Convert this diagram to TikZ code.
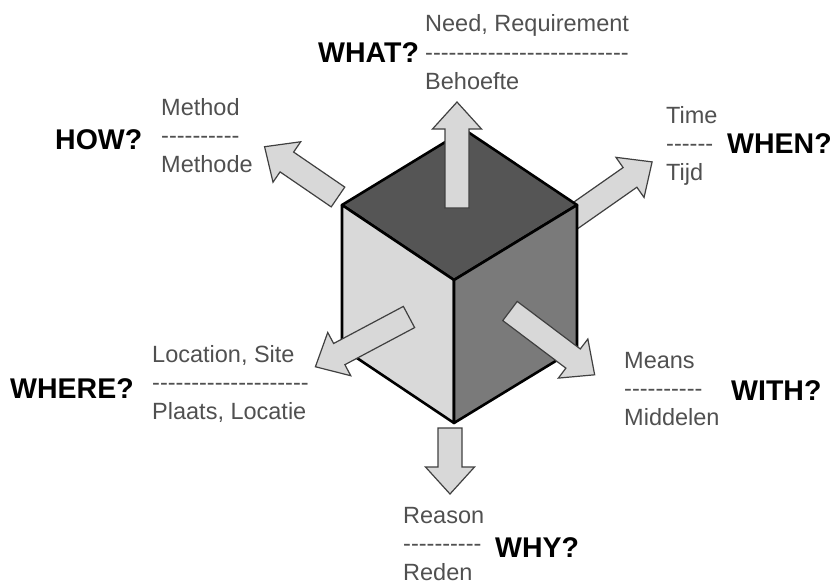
\documentclass[tikz,border=0pt]{standalone}
\usepackage{fontspec}
\setmainfont{Liberation Sans}
\usepackage{xcolor}
\usepackage{tikz}

\definecolor{topgray}{RGB}{85,85,85}
\definecolor{leftgray}{RGB}{217,217,217}
\definecolor{rightgray}{RGB}{122,122,122}
\definecolor{arrowgray}{RGB}{216,216,216}
\definecolor{textgray}{RGB}{80,80,80}

% broad arrow: tail point, direction, length
\newcommand{\blockarrow}[3]{%
	\begin{scope}[shift={#1},rotate=#2]
		\draw[arrowbody] (0,-12) -- ({#3-27},-12) -- ({#3-27},-24.5) -- (#3,0)
		-- ({#3-27},24.5) -- ({#3-27},12) -- (0,12) -- cycle;
	\end{scope}}

% row of single hyphens (no dash ligature)
\newcommand{\dashrow}[1]{\foreach \k in {1,...,#1}{-\kern0pt}}

\begin{document}
\begin{tikzpicture}[x=1pt,y=-1pt,
	arrowbody/.style={draw=black!75,line width=1.2pt,fill=arrowgray,line join=miter},
	cubeedge/.style={draw=black,line width=2.6pt,line join=round},
	answer/.style={anchor=base west,inner sep=0pt,text=textgray,font=\fontsize{23.5}{28}\selectfont},
	question/.style={anchor=base west,inner sep=0pt,font=\fontsize{28.5}{30}\selectfont\bfseries}]
	\useasboundingbox (0,0) rectangle (835,586);
	
	% arrows behind the cube
	\blockarrow{(338,197)}{145.6}{89}
	\blockarrow{(562,225)}{35}{110}
	
	% cube
	\coordinate (L) at (342,205);
	\coordinate (B) at (465,130);
	\coordinate (R) at (577,205);
	\coordinate (F) at (454,280);
	\coordinate (LB) at (342,348);
	\coordinate (FB) at (454,423);
	\coordinate (RB) at (577,348);
	\draw[cubeedge,fill=topgray] (L) -- (B) -- (R) -- (F) -- cycle;
	\draw[cubeedge,fill=leftgray] (L) -- (F) -- (FB) -- (LB) -- cycle;
	\draw[cubeedge,fill=rightgray] (F) -- (R) -- (RB) -- (FB) -- cycle;
	
	% arrows in front
	\blockarrow{(457,208)}{90}{106}
	\blockarrow{(409,317)}{208}{106}
	\blockarrow{(510,311)}{-37}{106}
	\blockarrow{(450,428)}{-90}{66}
	
	% english / dutch answers
	\foreach \nm/\x/\y/\upper/\n/\lower in {
		what/425/32/{Need, Requirement}/26/Behoefte,
		how/161/115/Method/10/Methode,
		when/666/123/Time/6/Tijd,
		where/152/362/{Location, Site}/20/{Plaats, Locatie},
		with/624/368/Means/10/Middelen,
		why/403/523/Reason/10/Reden}{
		\node[answer] (\nm-en) at (\x,\y) {\upper};
		\node[answer] (\nm-dash) at (\x,\y+28.5) {\dashrow{\n}};
		\node[answer] (\nm-nl) at (\x,\y+57) {\lower};
	}
	
	% questions
	\foreach \nm/\x/\y/\word in {what/318/63/WHAT?, how/55/149/HOW?, when/727/153/WHEN?,
		where/10/398/WHERE?, with/731/400/WITH?, why/495/557/WHY?}{
		\node[question] (q-\nm) at (\x,\y) {\word};
	}
\end{tikzpicture}
\end{document}
